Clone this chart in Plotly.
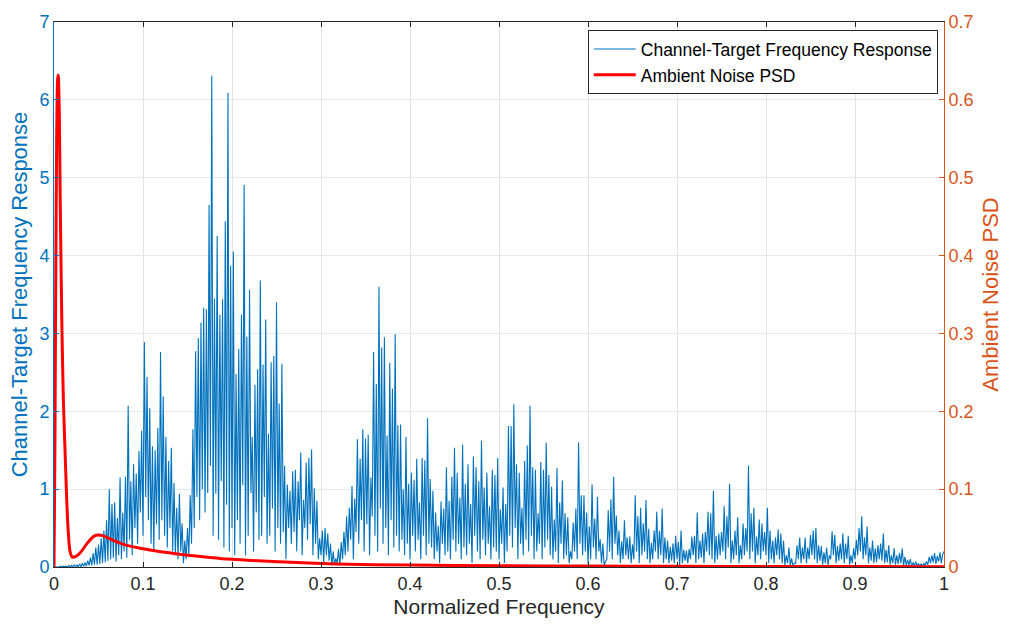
import numpy as np
import plotly.graph_objects as go

# Channel-target frequency response: local peaks and troughs
peaks = [
    0.0, 0.0, 0.01, 0.01, 0.01, 0.02, 0.02, 0.03, 0.03, 0.04,
    0.05, 0.06, 0.08, 0.12, 0.18, 0.25, 0.29, 0.37, 0.47, 0.6,
    1.0, 0.81, 0.83, 0.63, 1.15, 0.7, 1.16, 2.07, 1.1, 1.32,
    1.2, 1.49, 1.75, 2.89, 2.44, 2.04, 1.55, 1.5, 1.79, 2.76,
    2.19, 1.67, 1.36, 1.53, 1.08, 0.76, 0.94, 0.56, 0.34, 0.5,
    0.92, 1.77, 2.77, 2.94, 3.14, 3.33, 3.31, 4.65, 6.31, 3.45,
    4.25, 3.24, 3.44, 4.44, 6.09, 3.87, 4.05, 2.48, 2.8, 3.24,
    4.91, 2.96, 3.56, 1.67, 2.34, 2.54, 3.68, 2.6, 3.18, 1.71,
    2.63, 2.71, 3.4, 2.1, 2.61, 1.3, 1.06, 0.98, 1.23, 1.25,
    1.1, 1.47, 0.86, 1.34, 1.4, 1.51, 1.01, 0.85, 0.37, 0.47,
    0.5, 0.43, 0.3, 0.2, 0.11, 0.23, 0.32, 0.45, 0.65, 0.76,
    1.04, 0.88, 1.64, 1.39, 1.77, 1.65, 1.7, 1.15, 2.76, 2.35,
    3.6, 2.82, 2.95, 1.69, 2.62, 2.29, 2.99, 1.82, 1.83, 1.0,
    1.67, 1.07, 1.21, 1.12, 1.39, 0.83, 1.4, 1.37, 1.91, 1.13,
    0.98, 0.7, 0.53, 0.84, 0.75, 1.28, 0.85, 1.16, 1.53, 1.21,
    0.89, 1.57, 1.07, 1.32, 0.81, 1.42, 1.28, 1.1, 1.62, 1.02,
    1.21, 0.78, 1.25, 1.18, 1.4, 0.74, 1.02, 0.81, 1.81, 1.81,
    2.09, 1.32, 1.21, 0.76, 1.36, 1.56, 2.07, 1.28, 1.25, 0.69,
    1.35, 1.25, 1.6, 1.18, 1.03, 0.61, 1.27, 0.83, 1.11, 0.69,
    0.64, 0.2, 0.57, 0.75, 1.6, 0.92, 0.92, 0.7, 0.52, 1.06,
    0.62, 0.9, 0.36, 0.3, 0.07, 0.73, 0.87, 1.16, 0.66, 0.47,
    0.33, 0.6, 0.38, 0.39, 0.29, 0.92, 0.65, 0.76, 0.56, 0.86,
    0.49, 0.31, 0.47, 0.71, 0.47, 0.75, 0.38, 0.34, 0.26, 0.3,
    0.4, 0.32, 0.47, 0.22, 0.21, 0.23, 0.39, 0.4, 0.7, 0.34,
    0.43, 0.45, 0.71, 0.69, 0.98, 0.4, 0.43, 0.45, 0.78, 0.65,
    1.07, 0.34, 0.47, 0.64, 0.28, 0.56, 0.5, 1.3, 0.69, 0.76,
    0.39, 0.61, 0.56, 0.45, 0.76, 0.47, 0.34, 0.38, 0.48, 0.43,
    0.34, 0.15, 0.25, 0.11, 0.05, 0.28, 0.38, 0.25, 0.38, 0.25,
    0.41, 0.47, 0.5, 0.28, 0.27, 0.19, 0.25, 0.15, 0.46, 0.41,
    0.27, 0.3, 0.43, 0.3, 0.4, 0.15, 0.24, 0.35, 0.5, 0.65,
    0.38, 0.52, 0.25, 0.34, 0.24, 0.28, 0.3, 0.43, 0.22, 0.28,
    0.15, 0.24, 0.15, 0.18, 0.24, 0.13, 0.09, 0.1, 0.06, 0.07,
    0.05, 0.04, 0.05, 0.07, 0.13, 0.15, 0.18, 0.14, 0.19, 0.16,
]
troughs = [
    0, 0, 0, 0, 0, 0, 0, 0, 0, 0,
    0, 0.01, 0.01, 0.02, 0.02, 0.03, 0.03, 0.04, 0.05, 0.06,
    0.08, 0.1, 0.12, 0.07, 0.15, 0.1, 0.2, 0.12, 0.35, 0.15,
    0.5, 0.3, 0.7, 0.4, 0.9, 0.6, 0.3, 0.2, 0.55, 0.35,
    0.6, 0.4, 0.25, 0.5, 0.2, 0.15, 0.1, 0.2, 0.05, 0.1,
    0.15, 0.3, 0.5, 0.9, 0.6, 1.0, 0.7, 0.95, 1.3, 0.4,
    0.94, 0.35, 1.1, 0.25, 0.8, 0.2, 0.5, 0.15, 0.6, 0.3,
    1.05, 0.15, 0.4, 0.95, 0.2, 0.7, 0.35, 0.4, 0.9, 0.3,
    0.4, 0.75, 0.2, 0.5, 0.3, 0.45, 0.1, 0.5, 0.3, 0.45,
    0.2, 0.6, 0.15, 0.5, 0.35, 0.55, 0.15, 0.3, 0.1, 0.15,
    0.05, 0.15, 0.08, 0.02, 0.03, 0.05, 0.02, 0.1, 0.15, 0.2,
    0.35, 0.1, 0.45, 0.3, 0.6, 0.2, 0.55, 0.15, 0.65, 0.4,
    0.2, 0.75, 0.3, 0.5, 0.15, 0.6, 0.25, 0.4, 0.2, 0.35,
    0.15, 0.3, 0.1, 0.4, 0.2, 0.35, 0.1, 0.4, 0.15, 0.3,
    0.25, 0.1, 0.2, 0.05, 0.3, 0.15, 0.2, 0.1, 0.35, 0.2,
    0.3, 0.1, 0.25, 0.15, 0.3, 0.05, 0.4, 0.2, 0.1, 0.35,
    0.15, 0.3, 0.1, 0.25, 0.2, 0.1, 0.3, 0.05, 0.2, 0.4,
    0.25, 0.5, 0.1, 0.3, 0.15, 0.35, 0.2, 0.4, 0.1, 0.2,
    0.3, 0.1, 0.25, 0.35, 0.15, 0.1, 0.2, 0.05, 0.3, 0.1,
    0.15, 0.05, 0.1, 0.2, 0.1, 0.3, 0.15, 0.2, 0.05, 0.1,
    0.25, 0.1, 0.2, 0.05, 0.02, 0.1, 0.2, 0.1, 0.3, 0.15,
    0.05, 0.1, 0.15, 0.1, 0.05, 0.1, 0.2, 0.05, 0.15, 0.2,
    0.1, 0.05, 0.1, 0.2, 0.1, 0.15, 0.05, 0.1, 0.05, 0.08,
    0.05, 0.1, 0.02, 0.05, 0.08, 0.05, 0.1, 0.15, 0.05, 0.1,
    0.12, 0.05, 0.2, 0.15, 0.1, 0.05, 0.1, 0.15, 0.2, 0.1,
    0.25, 0.05, 0.1, 0.15, 0.05, 0.1, 0.15, 0.2, 0.1, 0.2,
    0.05, 0.15, 0.1, 0.2, 0.15, 0.05, 0.1, 0.05, 0.15, 0.1,
    0.05, 0.02, 0.05, 0.02, 0.01, 0.05, 0.1, 0.05, 0.1, 0.05,
    0.1, 0.15, 0.1, 0.05, 0.08, 0.03, 0.05, 0.02, 0.1, 0.15,
    0.05, 0.08, 0.1, 0.05, 0.1, 0.03, 0.05, 0.1, 0.15, 0.2,
    0.1, 0.15, 0.05, 0.08, 0.05, 0.06, 0.1, 0.08, 0.05, 0.06,
    0.03, 0.05, 0.03, 0.04, 0.05, 0.02, 0.02, 0.02, 0.01, 0.01,
    0.01, 0.01, 0.01, 0.02, 0.03, 0.05, 0.06, 0.04, 0.07, 0.05,
    0.2,
]

# Ambient noise PSD (right axis)
noise_f = [0.0, 0.001, 0.002, 0.003, 0.004, 0.0048, 0.006, 0.007, 0.008, 0.009,
           0.0105, 0.0123, 0.0142, 0.016, 0.018, 0.0205, 0.025, 0.03, 0.037, 0.045,
           0.05, 0.056, 0.067, 0.078, 0.097, 0.12, 0.141, 0.2, 0.253, 0.317,
           0.4, 0.5, 0.6, 0.7, 0.8, 0.9, 1.0]
noise_psd = [0.0, 0.15, 0.38, 0.55, 0.625, 0.632, 0.58, 0.47, 0.38, 0.3,
             0.216, 0.153, 0.089, 0.045, 0.02, 0.0127, 0.014, 0.019, 0.03, 0.0396,
             0.041, 0.0396, 0.034, 0.029, 0.024, 0.0195, 0.0165, 0.0098, 0.0068, 0.0038,
             0.0025, 0.0017, 0.0012, 0.0009, 0.0007, 0.0005, 0.0004]

x_ticks = [0, 0.1, 0.2, 0.3, 0.4, 0.5, 0.6, 0.7, 0.8, 0.9, 1]

# interleave troughs and peaks into one sampled response
resp = []
for i in range(len(peaks)):
    resp.append(troughs[i])
    resp.append(peaks[i])
if len(troughs) > len(peaks):
    resp.append(troughs[len(peaks)])
freq = np.linspace(0, 1, len(resp))

BLUE = "#0072BD"
ORANGE = "#D95319"
DARK = "#262626"
FONT = "Liberation Sans, Arial, sans-serif"

fig = go.Figure()
fig.add_trace(go.Scatter(x=freq, y=resp, mode="lines",
                         line=dict(color=BLUE, width=1.1),
                         name="Channel-Target Frequency Response"))
fig.add_trace(go.Scatter(x=noise_f, y=noise_psd, mode="lines", yaxis="y2",
                         line=dict(color="#FF0000", width=3, shape="spline", smoothing=0.6),
                         name="Ambient Noise PSD"))

fig.update_layout(
    width=1010, height=627,
    margin=dict(l=54, r=64, t=17, b=60),
    paper_bgcolor="white", plot_bgcolor="white",
    font=dict(family=FONT, size=18, color=DARK),
    showlegend=True,
    legend=dict(x=0.993, y=0.985, xanchor="right", yanchor="top",
                bgcolor="white", bordercolor=DARK, borderwidth=1,
                font=dict(size=17.5, color="#000000"),
                tracegroupgap=0, itemwidth=42),
    xaxis=dict(range=[0, 1], tickvals=x_ticks, ticks="inside", ticklen=5,
               tickcolor=DARK, showline=True, linecolor=DARK, linewidth=1,
               mirror="ticks", showgrid=True, gridcolor="#E3E3E3",
               zeroline=False, tickfont=dict(size=18, color=DARK),
               title=dict(text="Normalized Frequency", font=dict(size=21, color=DARK), standoff=6)),
    yaxis=dict(range=[0, 7], dtick=1, ticks="inside", ticklen=5,
               tickcolor=BLUE, showline=True, linecolor=BLUE, linewidth=1,
               showgrid=True, gridcolor="#E2ECF5", zeroline=False,
               tickfont=dict(size=18, color=BLUE),
               title=dict(text="Channel-Target Frequency Response",
                          font=dict(size=22, color=BLUE), standoff=5)),
    yaxis2=dict(range=[0, 0.7], dtick=0.1, overlaying="y", side="right",
                ticks="inside", ticklen=5, tickcolor=ORANGE, showline=True,
                linecolor=ORANGE, linewidth=1, showgrid=False, zeroline=False,
                tickfont=dict(size=18, color=ORANGE),
                title=dict(text="Ambient Noise PSD", font=dict(size=22, color=ORANGE), standoff=9)),
)

fig.write_html("out.html")
